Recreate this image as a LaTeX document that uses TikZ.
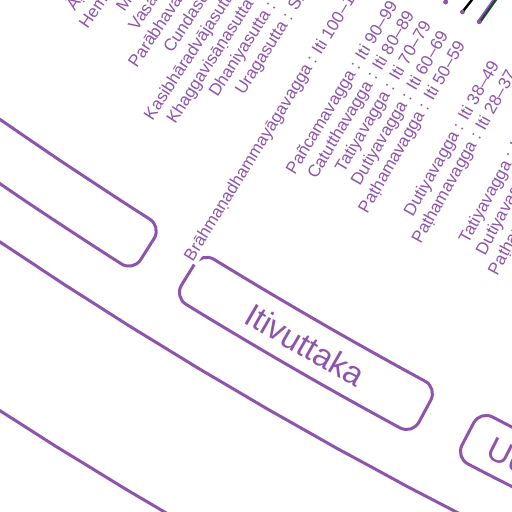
\documentclass[tikz,border=0pt]{standalone}
\usepackage{fontspec}
\setmainfont{Liberation Sans}
\usetikzlibrary{calc}
\definecolor{pur}{RGB}{142,84,171}
\definecolor{dkgreen}{RGB}{28,72,56}
\tikzset{
  lbl/.style={text=pur, fill=white, inner sep=1pt, font=\fontsize{17}{20}\selectfont, anchor=base east},
  boxline/.style={draw=pur, line width=3pt, rounded corners=14pt},
  ringline/.style={draw=pur, line width=3pt},
  bigtxt/.style={text=pur, font=\fontsize{33}{38}\selectfont},
  leafdot/.style={circle, fill=pur, inner sep=0pt, minimum size=4.5pt},
  edgeline/.style={line width=2.4pt},
}
\newcommand\leaflabel[4]{\node[lbl, rotate=#2] (#1) at ($(C)+(180+#2:#3)$) {#4};}
\begin{document}
\begin{tikzpicture}[x=1pt,y=1pt]
\useasboundingbox (0,-512) rectangle (512,0);
\clip (0,-512) rectangle (512,0);
\coordinate (C) at (2556,3553.6);
\begin{scope}[shift={(C)}]
  % outer ring lines
  \draw[ringline] plot[domain=55:64, samples=19, variable=\t] ({4576*cos(180+\t)},{4576*sin(180+\t)});
  \draw[ringline] plot[domain=56:61, samples=11, variable=\t] ({4717*cos(180+\t)},{4717*sin(180+\t)});
  % Sutta Nipata box (left)
  \draw[boxline] plot[domain=53.5:57.65, samples=9, variable=\t] ({4475*cos(180+\t)},{4475*sin(180+\t)})
     -- plot[domain=57.65:53.5, samples=9, variable=\t] ({4528*cos(180+\t)},{4528*sin(180+\t)}) -- cycle;
  % Itivuttaka box
  \draw[boxline] plot[domain=58.26:61.74, samples=8, variable=\t] ({4475*cos(180+\t)},{4475*sin(180+\t)})
     -- plot[domain=61.74:58.26, samples=8, variable=\t] ({4528*cos(180+\t)},{4528*sin(180+\t)}) -- cycle;
  % Udana box
  \draw[boxline] plot[domain=62.36:66.5, samples=9, variable=\t] ({4475*cos(180+\t)},{4475*sin(180+\t)})
     -- plot[domain=66.5:62.36, samples=9, variable=\t] ({4528*cos(180+\t)},{4528*sin(180+\t)}) -- cycle;
\end{scope}
\node[bigtxt, rotate=-30] (iti) at ($(C)+(240:4501.5)$) {Itivuttaka};
\node[bigtxt, rotate=-26.7] (ud) at ($(C)+(180+63.3:4501.5)$) {Udāna};
% leaf dots and edges
\coordinate (e70) at (448,6);
\coordinate (e60) at (476.5,6);
\coordinate (e50) at (499,6);
\node[leafdot] (d70) at ($(C)+(239.31:4135)$) {};
\node[leafdot] (d60) at ($(C)+(239.58:4135)$) {};
\node[leafdot] (d50) at ($(C)+(239.85:4135)$) {};
\draw[edgeline, black] (d70.center) -- (e70);
\draw[edgeline, black] (d60.center) -- (e60);
\draw[edgeline, pur] ([xshift=-1.2pt]d50.center) -- ([xshift=-1.2pt]e50);
\draw[edgeline, dkgreen] ([xshift=1pt]d50.center) -- ([xshift=1pt]e50);
\node[leafdot] at (d70) {};
\node[leafdot] at (d60) {};
\node[leafdot] at (d50) {};
% Sutta Nipata leaves
\leaflabel{sn1}{57.64}{4171}{Uragasutta : Sn 1.1}
\leaflabel{sn2}{57.365}{4171}{Dhaniyasutta : Sn 1.2}
\leaflabel{sn3}{57.09}{4171}{Khaggavisāṇasutta : Sn 1.3}
\leaflabel{sn4}{56.815}{4171}{Kasibhāradvājasutta : Sn 1.4}
\leaflabel{sn5}{56.54}{4171}{Cundasutta : Sn 1.5}
\leaflabel{sn6}{56.265}{4171}{Parābhavasutta : Sn 1.6}
\leaflabel{sn7}{55.99}{4171}{Vasalasutta : Sn 1.7}
\leaflabel{sn8}{55.715}{4171}{Mettasutta : Sn 1.8}
\leaflabel{sn9}{55.44}{4171}{Hemavatasutta : Sn 1.9}
\leaflabel{sn10}{55.165}{4171}{Āḷavakasutta : Sn 1.10}
% Itivuttaka leaves
\leaflabel{it13}{58.23}{4161}{Brāhmaṇadhammayāgavagga : Iti 100–112}
\leaflabel{it10}{58.77}{4161}{Pañcamavagga : Iti 90–99}
\leaflabel{it9}{59.04}{4161}{Catutthavagga : Iti 80–89}
\leaflabel{it8}{59.31}{4161}{Tatiyavagga : Iti 70–79}
\leaflabel{it7}{59.58}{4161}{Dutiyavagga : Iti 60–69}
\leaflabel{it6}{59.85}{4161}{Paṭhamavagga : Iti 50–59}
\leaflabel{it5}{60.39}{4161}{Dutiyavagga : Iti 38–49}
\leaflabel{it4}{60.66}{4161}{Paṭhamavagga : Iti 28–37}
\leaflabel{it3}{61.20}{4161}{Tatiyavagga : Iti 21–27}
\leaflabel{it2}{61.47}{4161}{Dutiyavagga : Iti 11–20}
\leaflabel{it1}{61.74}{4161}{Paṭhamavagga : Iti 1–10}
\end{tikzpicture}
\end{document}
